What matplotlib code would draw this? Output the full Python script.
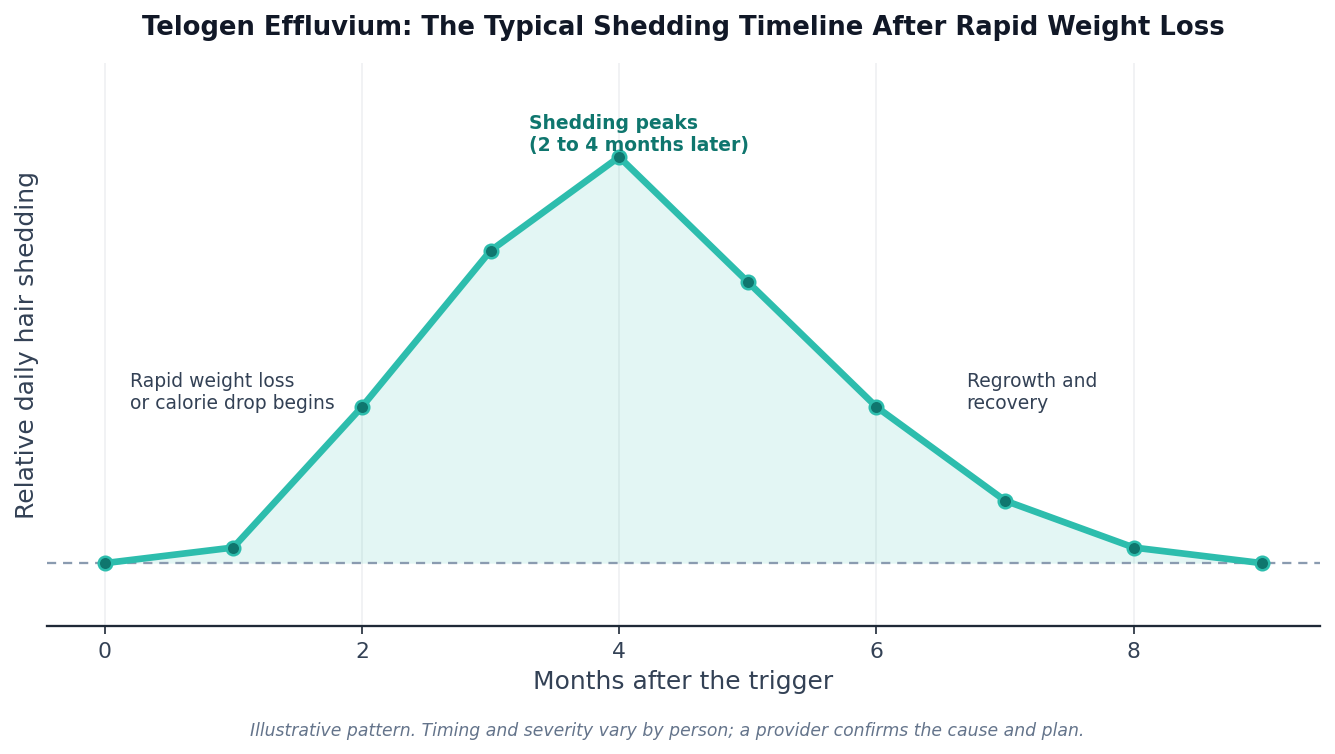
import numpy as np
import matplotlib
matplotlib.use("Agg")
import matplotlib.pyplot as plt

# months after the trigger and relative shedding (baseline = 1)
months = [0, 1, 2, 3, 4, 5, 6, 7, 8, 9]
shedding = [1.0, 1.1, 2.0, 3.0, 3.6, 2.8, 2.0, 1.4, 1.1, 1.0]
baseline = 1.0
xticks = [0, 2, 4, 6, 8]

title = "Telogen Effluvium: The Typical Shedding Timeline After Rapid Weight Loss"
footnote = "Illustrative pattern. Timing and severity vary by person; a provider confirms the cause and plan."

line_col = "#2dbdad"
dark_col = "#0f766e"
text_col = "#334155"

fig, ax = plt.subplots(figsize=(8.9, 5.033), dpi=150)

ax.fill_between(months, baseline, shedding, color=line_col, alpha=0.13, linewidth=0)
ax.axhline(baseline, color="#8a9bb0", linestyle="--", linewidth=1.1, dashes=(4, 3))
ax.plot(months, shedding, color=line_col, linewidth=3.2, marker="o", markersize=6.5,
        markerfacecolor=dark_col, markeredgecolor=line_col, markeredgewidth=1.2, zorder=3)

# annotations
ax.text(3.3, 3.62, "Shedding peaks\n(2 to 4 months later)", color=dark_col,
        fontsize=9, fontweight="bold", ha="left", va="bottom")
ax.text(0.2, 2.1, "Rapid weight loss\nor calorie drop begins", color=text_col,
        fontsize=9, ha="left", va="center")
ax.text(6.7, 2.1, "Regrowth and\nrecovery", color=text_col,
        fontsize=9, ha="left", va="center")

ax.set_xlim(-0.45, 9.45)
ax.set_ylim(0.6, 4.2)
ax.set_xticks(xticks)
ax.set_yticks([])
ax.grid(axis="x", color="#e5e7eb", linewidth=0.8, alpha=0.6)
ax.set_axisbelow(True)
for s in ["top", "right", "left"]:
    ax.spines[s].set_visible(False)
ax.spines["bottom"].set_color("#1f2937")
ax.spines["bottom"].set_linewidth(1.1)
ax.tick_params(axis="x", colors=text_col, labelsize=10.5, length=4)
ax.tick_params(axis="x", color="#1f2937")

ax.set_xlabel("Months after the trigger", fontsize=12, color=text_col, labelpad=3.5)
ax.set_ylabel("Relative daily hair shedding", fontsize=12, color=text_col, labelpad=3.5)
ax.set_title(title, fontsize=12.4, fontweight="bold", color="#111827", pad=14)

fig.text(0.5, 0.025, footnote, ha="center", fontsize=8.3, style="italic",
         color="#64748b")

fig.subplots_adjust(left=0.035, right=0.989, top=0.915, bottom=0.17)
fig.savefig("out.png", dpi=150)
